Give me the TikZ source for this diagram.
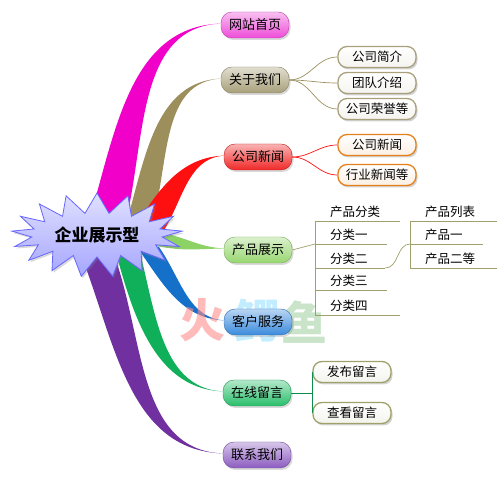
\documentclass[tikz,border=0pt]{standalone}
\usepackage{fontspec}
\newfontfamily\cjk{Noto Sans CJK SC}
\usetikzlibrary{shapes,shadows,positioning,calc}
\pgfdeclarelayer{background}
\pgfsetlayers{background,main}

\definecolor{pinkbr}{HTML}{F000C8}
\definecolor{pinknd}{HTML}{EE4CD8}
\definecolor{khakibr}{HTML}{9C8F5C}
\definecolor{khakind}{HTML}{A8A07A}
\definecolor{redbr}{HTML}{FF1010}
\definecolor{rednd}{HTML}{F02828}
\definecolor{lgreenbr}{HTML}{8CD264}
\definecolor{lgreennd}{HTML}{98D670}
\definecolor{bluebr}{HTML}{1470C8}
\definecolor{bluend}{HTML}{3A8ADC}
\definecolor{greenbr}{HTML}{10B05A}
\definecolor{greennd}{HTML}{28BE6A}
\definecolor{purplebr}{HTML}{7030A0}
\definecolor{purplend}{HTML}{8C5CC0}
\definecolor{treeline}{HTML}{A0A06A}

% tapered branch from the hub to a topic
\newcommand{\branch}[6]{%
  \fill[#1] (#2) to[out=#5,in=180] ($(#4.west)+(4,1.5)$)
    to[out=180,in=#6] (#3) -- cycle;}

\begin{document}
\begin{tikzpicture}[x=1pt, y=1pt,
    every node/.style={font=\cjk\fontsize{13}{15}\selectfont},
    topic/.style={rectangle, rounded corners=11pt, minimum height=26pt,
      minimum width=68pt, inner xsep=5pt, draw=#1!80!black, line width=0.4pt,
      top color=#1!35!white, bottom color=#1,
      drop shadow={shadow xshift=1.5pt, shadow yshift=-2pt, opacity=0.3}},
    leaf/.style={rectangle, rounded corners=9pt, minimum height=21pt,
      minimum width=78pt, inner xsep=4pt, draw=#1, line width=1.3pt,
      top color=white, bottom color=#1!12!white,
      font=\cjk\fontsize{12.5}{15}\selectfont,
      drop shadow={shadow xshift=1.5pt, shadow yshift=-2pt, opacity=0.35}},
    item/.style={anchor=south west, inner xsep=15pt, inner ysep=3pt,
      text width=#1, align=left, font=\cjk\fontsize{12.5}{15}\selectfont},
    sub/.style={draw=#1, line width=0.7pt},
    wmark/.style={font=\cjk\bfseries\fontsize{46}{50}\selectfont, opacity=0.6},
    ]
\useasboundingbox (0,0) rectangle (504,482);

\coordinate (hub) at (97,247);

% topics
\node[topic=pinknd]   (site)    at (255,457) {网站首页};
\node[topic=khakind]  (about)   at (255,402) {关于我们};
\node[topic=rednd]    (news)    at (258,325) {公司新闻};
\node[topic=lgreennd] (product) at (258,232) {产品展示};
\node[topic=bluend]   (service) at (258,160) {客户服务};
\node[topic=greennd]  (message) at (257,89)  {在线留言};
\node[topic=purplend] (contact) at (257,27)  {联系我们};

% branches
\begin{pgfonlayer}{background}
\branch{pinkbr}{$(hub)+(-13,-2)$}{$(hub)+(25,-2)$}{site}{72}{74}
\branch{khakibr}{$(hub)+(25,-2)$}{$(hub)+(51,-2)$}{about}{72}{70}
\branch{redbr}{$(hub)+(33,0)$}{$(hub)+(58,-8)$}{news}{58}{50}
\branch{lgreenbr}{$(hub)+(60,3)$}{$(hub)+(60,-11)$}{product}{-8}{-12}
\branch{bluebr}{$(hub)+(62,-12)$}{$(hub)+(40,-12)$}{service}{-55}{-55}
\branch{greenbr}{$(hub)+(42,-14)$}{$(hub)+(18,-14)$}{message}{-75}{-75}
\branch{purplebr}{$(hub)+(14,-12)$}{$(hub)+(-19,-12)$}{contact}{-68}{-68}
% watermark
\node[wmark, text=red!45] (wm1) at (202,162) {火};
\node[wmark, text=blue!30!cyan!40] (wm2) at (257,161) {鳄};
\node[wmark, text=green!50!black!35] (wm3) at (304,160) {鱼};
\end{pgfonlayer}

% hub
\node[starburst, starburst points=17, starburst point height=20pt,
  random starburst=0, minimum width=171pt, minimum height=84pt,
  draw=blue!60, line width=0.8pt, top color=blue!12, bottom color=blue!35,
  drop shadow={shadow xshift=1.5pt, shadow yshift=-2pt, opacity=0.3},
  font=\cjk\bfseries\fontsize{17}{20}\selectfont] (root) at (hub) {企业展示型};

% about us
\node[leaf=khakind] (intro)  at (377,425) {公司简介};
\node[leaf=khakind] (team)   at (377,399) {团队介绍};
\node[leaf=khakind] (honor)  at (377,373) {公司荣誉等};
\path[sub=khakibr]
(about) edge[out=0,in=180] (intro.west)
(about) edge[out=0,in=180] (team.west)
(about) edge[out=0,in=180] (honor.west)
;

% news
\node[leaf=orange!60!brown] (cnews) at (377,337) {公司新闻};
\node[leaf=orange!60!brown] (inews) at (377,307) {行业新闻等};
\path[sub=redbr]
(news) edge[out=0,in=180] (cnews.west)
(news) edge[out=0,in=180] (inews.west)
;

% products
\node[item=55pt] (cat0) at (315,261) {产品分类};
\node[item=42pt] (cat1) at (315,238) {分类一};
\node[item=40pt] (cat2) at (315,214) {分类二};
\node[item=42pt] (cat3) at (315,192) {分类三};
\node[item=55pt] (cat4) at (315,167) {分类四};
\node[item=57pt] (list0) at (410,261) {产品列表};
\node[item=43pt] (list1) at (410,238) {产品一};
\node[item=57pt] (list2) at (410,214) {产品二等};
\foreach \n in {cat0,cat1,cat2,cat3,cat4,list0,list1,list2}
  \draw[sub=treeline] (\n.south west) -- (\n.south east);
\draw[sub=treeline] (cat0.south west) -- (cat4.south west);
\draw[sub=treeline] (list0.south west) -- (list2.south west);
\draw[sub=treeline] (product.east) -- (cat1.south west);
\draw[sub=treeline] (cat2.south east) to[out=0,in=180] (list1.south west);

% messages
\node[leaf=treeline] (post) at (352,110) {发布留言};
\node[leaf=treeline] (view) at (352,69)  {查看留言};
\draw[sub=greenbr!80!black] (message.east) -- (message.east -| post.west);
\draw[sub=greenbr!80!black] (post.west) -- (view.west);
\end{tikzpicture}
\end{document}
